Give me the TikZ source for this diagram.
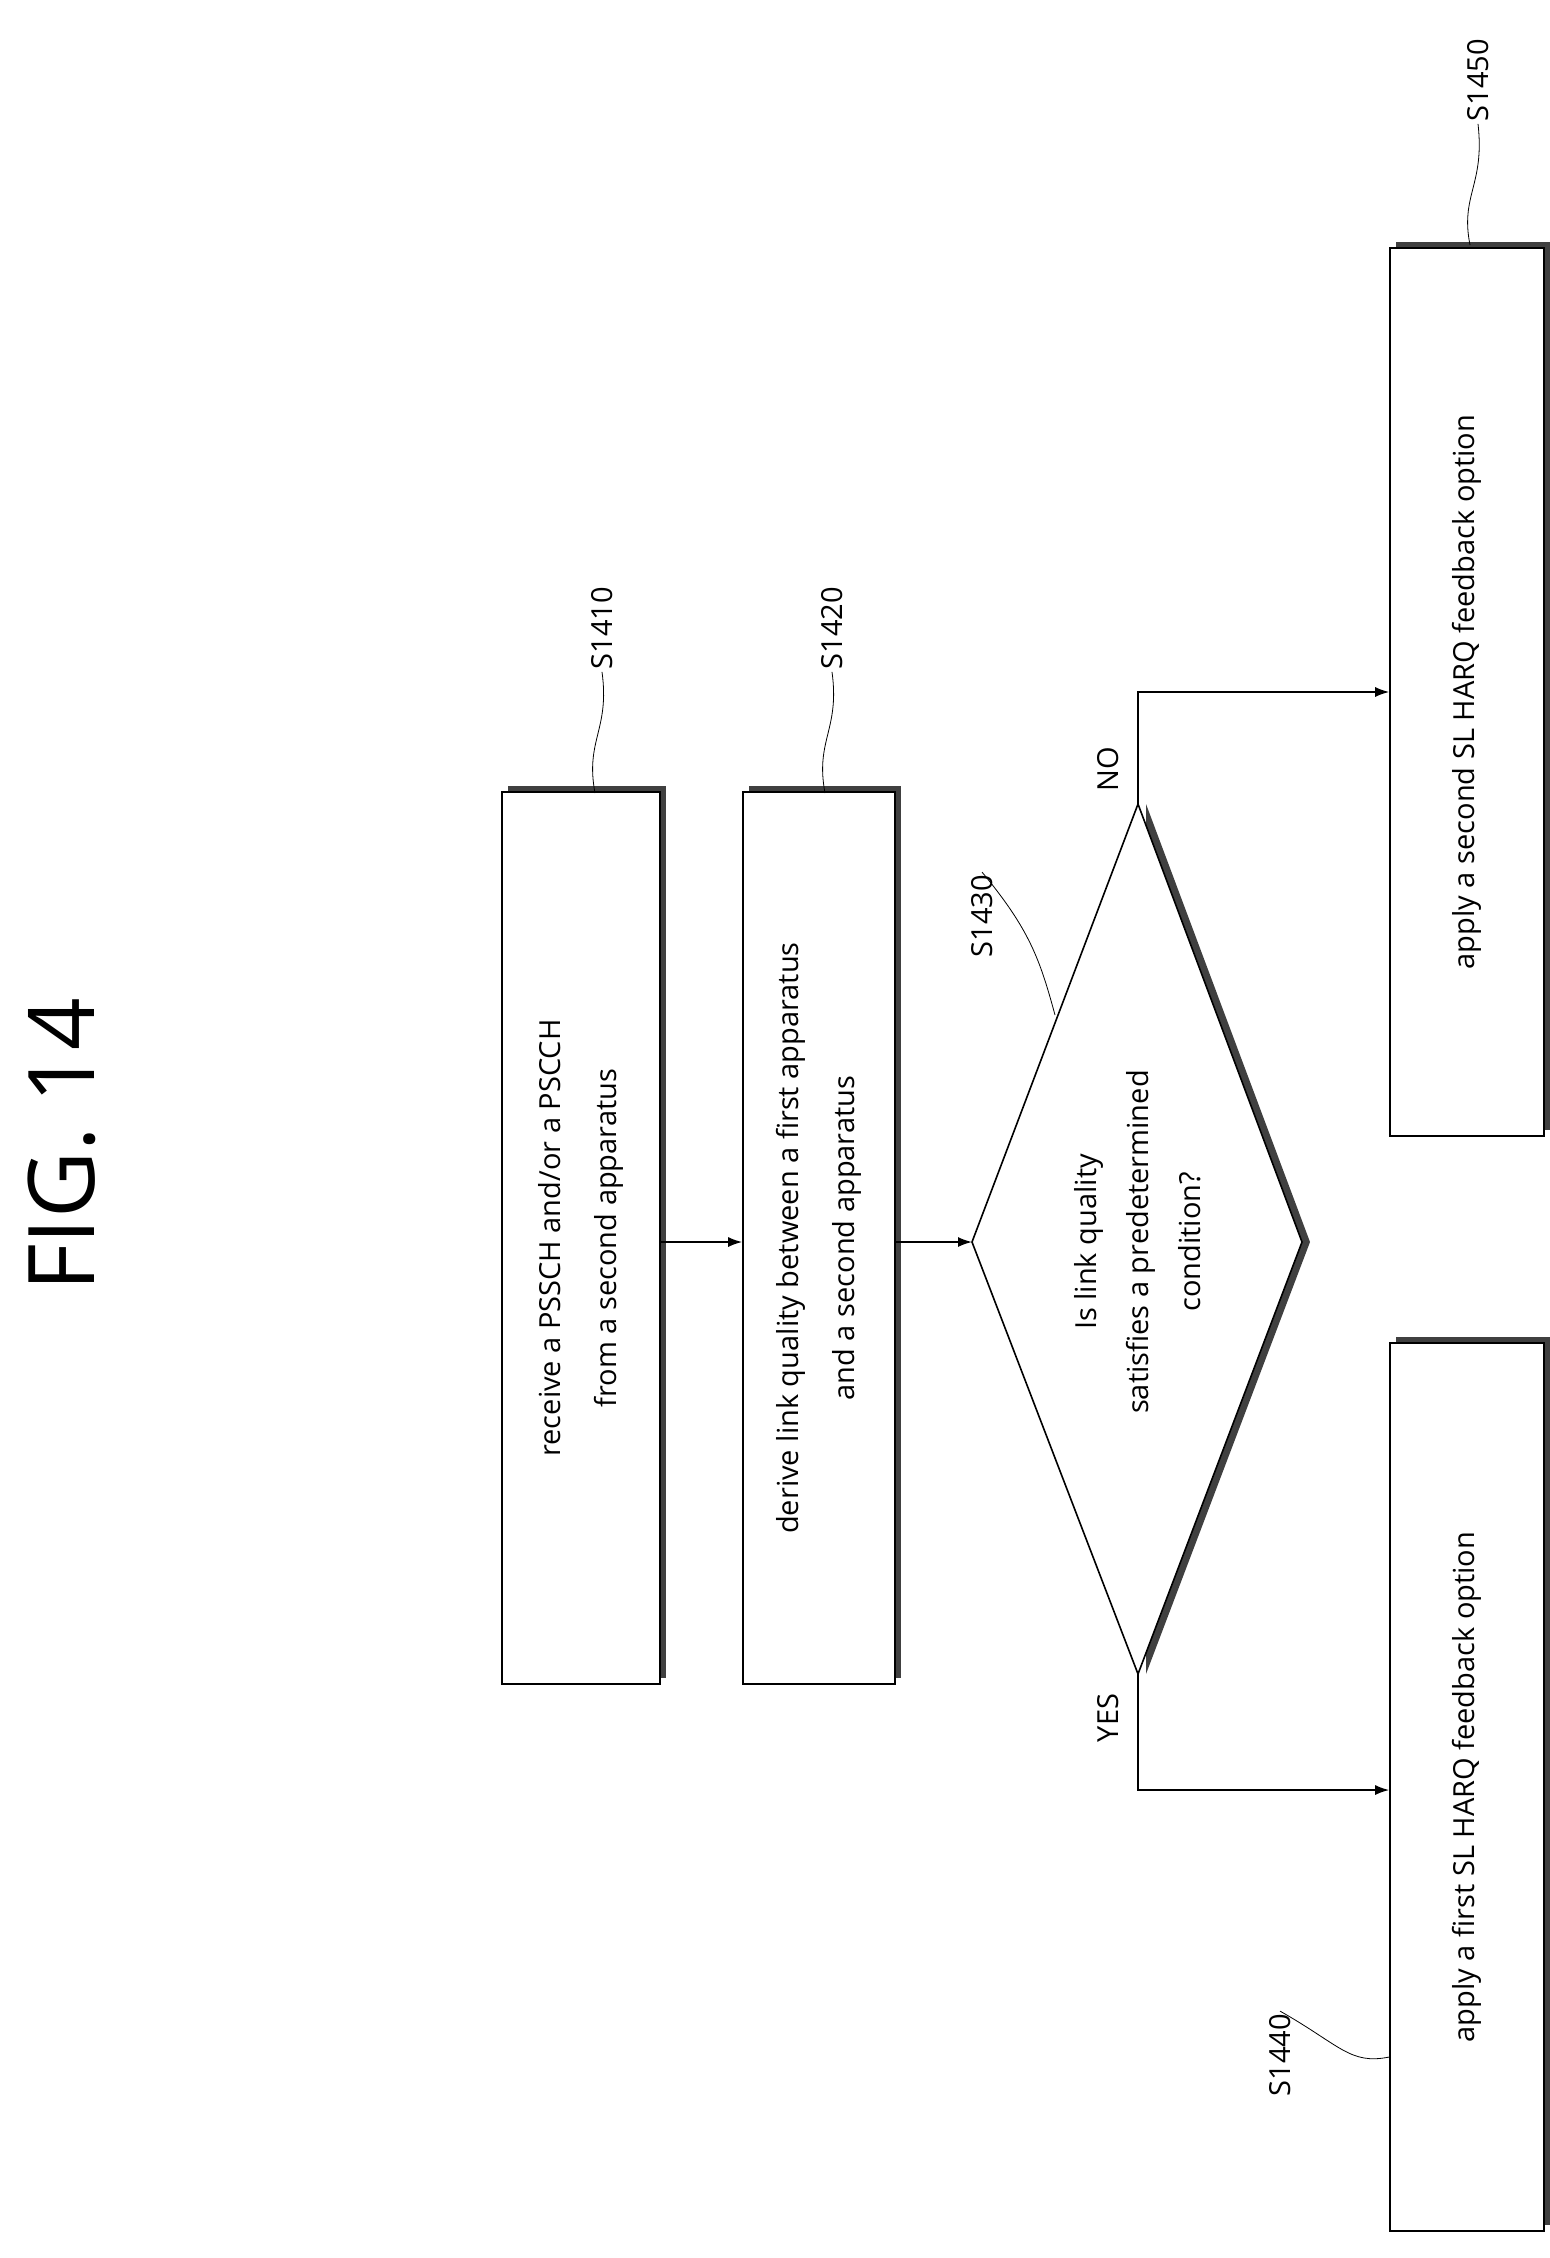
\documentclass[tikz,border=0pt]{standalone}
\usepackage{fontspec}
\setmainfont{Open Sans}
\usetikzlibrary{arrows.meta,shadows}

\begin{document}
\begin{tikzpicture}[x=0.5pt,y=-0.5pt,>={Latex[length=7pt,width=5pt]},thick,
      stepbox/.style={draw,fill=white,inner sep=0,
          drop shadow={shadow xshift=3pt,shadow yshift=3pt,fill=black!75,opacity=1}},
      boxtext/.style={rotate=90,font=\fontsize{14.5}{28}\selectfont,align=center},
      steplabel/.style={rotate=90,font=\fontsize{14.5}{18}\selectfont,inner sep=1pt}]

    \useasboundingbox (0,0) rectangle (1549,2258);
    \node[rotate=90,font=\fontsize{46}{50}\selectfont] (fig) at (62,1145) {FIG.\ 14};

    % boxes
    \node[stepbox,minimum width=79pt,minimum height=446pt] (recv) at (581,1238) {};
    \node[boxtext] at (recv) {receive a PSSCH and/or a PSCCH\\from a second apparatus};
    \node[stepbox,minimum width=76pt,minimum height=446pt] (derive) at (819,1238) {};
    \node[boxtext] at (derive) {derive link quality between a first apparatus\\and a second apparatus};
    \node[stepbox,minimum width=77pt,minimum height=444pt] (first) at (1467,1787) {};
    \node[boxtext] at (first) {apply a first SL HARQ feedback option};
    \node[stepbox,minimum width=77pt,minimum height=444pt] (second) at (1467,692) {};
    \node[boxtext] at (second) {apply a second SL HARQ feedback option};

    % decision
    \coordinate (dl) at (972,1242);
    \coordinate (dt) at (1138,804);
    \coordinate (dr) at (1302,1242);
    \coordinate (db) at (1138,1674);
    \fill[black!75] ([xshift=4pt]dt) -- ([xshift=4pt]dr) -- ([xshift=4pt]db) -- cycle;
    \draw[fill=white] (dl) -- (dt) -- (dr) -- (db) -- cycle;
    \node[boxtext,font=\fontsize{14.5}{26}\selectfont] (cond) at (1138,1242)
        {Is link quality\\satisfies a predetermined\\condition?};

    % connectors
    \draw[->] (recv.east |- dl) -- (derive.west |- dl);
    \draw[->] (derive.east |- dl) -- (dl);
    \draw[->] (db) -- (1138,1790) -- (first.west |- 0,1790);
    \draw[->] (dt) -- (1138,692) -- (second.west |- 0,692);
    \node[steplabel] (yes) at (1108,1718) {YES};
    \node[steplabel] (no) at (1108,769) {NO};

    % step numbers
    \node[steplabel] (s1410) at (602,628) {S1410};
    \node[steplabel] (s1420) at (832,628) {S1420};
    \node[steplabel] (s1430) at (982,916) {S1430};
    \node[steplabel] (s1440) at (1280,2055) {S1440};
    \node[steplabel] (s1450) at (1478,80) {S1450};
    \draw[thin] (595,793) .. controls (585,740) and (610,730) .. (s1410.west);
    \draw[thin] (825,793) .. controls (815,740) and (840,730) .. (s1420.west);
    \draw[thin] (1055,1015) .. controls (1040,960) and (1030,930) .. (s1430.east);
    \draw[thin] (first.west |- 0,2057) .. controls (1350,2065) and (1340,2045) .. (s1440.east);
    \draw[thin] (1470,245) .. controls (1460,195) and (1485,185) .. (s1450.west);

  \end{tikzpicture}
\end{document}
